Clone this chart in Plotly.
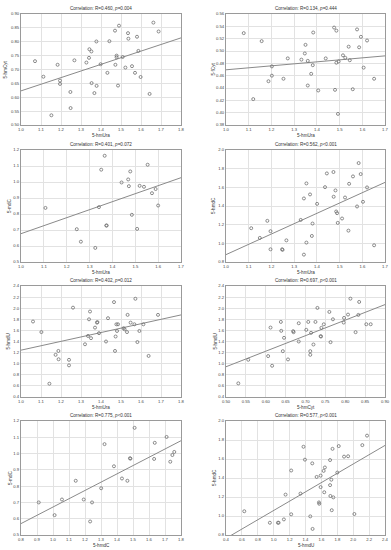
import plotly.graph_objects as go

# ---------------- data ----------------
# Panel 1: 5-hmUra vs 5-hmCyt
p1_x = [1.07, 1.112, 1.152, 1.183, 1.195, 1.195, 1.247, 1.248, 1.267, 1.327, 1.34, 1.342, 1.352,
        1.353, 1.367, 1.377, 1.378, 1.398, 1.432, 1.442, 1.47, 1.472, 1.478, 1.478, 1.485, 1.49,
        1.508, 1.522, 1.535, 1.537, 1.555, 1.57, 1.58, 1.587, 1.598, 1.643, 1.662, 1.688]
p1_y = [0.730, 0.674, 0.535, 0.717, 0.660, 0.648, 0.619, 0.561, 0.733, 0.725, 0.742, 0.773, 0.765,
        0.651, 0.615, 0.801, 0.641, 0.719, 0.688, 0.802, 0.840, 0.717, 0.750, 0.744, 0.642, 0.858,
        0.745, 0.707, 0.831, 0.811, 0.712, 0.688, 0.818, 0.767, 0.673, 0.612, 0.869, 0.837]
fit1_x = [1.0, 1.8]
fit1_y = [0.623, 0.814]

# Panel 2: 5-hmUra vs 5-fCyt
p2_x = [1.078, 1.12, 1.157, 1.187, 1.202, 1.202, 1.253, 1.272, 1.332, 1.347, 1.35, 1.36, 1.36,
        1.375, 1.382, 1.384, 1.406, 1.439, 1.476, 1.48, 1.486, 1.486, 1.493, 1.496, 1.515, 1.525,
        1.54, 1.545, 1.558, 1.577, 1.586, 1.594, 1.606, 1.621, 1.652]
p2_y = [0.529, 0.422, 0.516, 0.451, 0.460, 0.475, 0.455, 0.488, 0.486, 0.496, 0.510, 0.484, 0.444,
        0.463, 0.477, 0.530, 0.436, 0.488, 0.538, 0.437, 0.533, 0.481, 0.398, 0.483, 0.493, 0.489,
        0.507, 0.485, 0.438, 0.535, 0.506, 0.523, 0.473, 0.517, 0.455]
fit2_x = [1.0, 1.7]
fit2_y = [0.4695, 0.4921]

# Panel 3: 5-hmUra vs 5-mdC
p3_x = [1.107, 1.244, 1.262, 1.325, 1.341, 1.351, 1.366, 1.373, 1.375, 1.44, 1.469, 1.472, 1.478,
        1.485, 1.508, 1.519, 1.538, 1.554, 1.573, 1.589, 1.6]
p3_y = [0.838, 0.705, 0.627, 0.588, 0.843, 1.077, 1.164, 0.728, 0.728, 0.997, 1.016, 0.974, 1.066,
        0.795, 0.707, 0.976, 0.970, 1.108, 0.930, 0.956, 0.853]
fit3_x = [1.0, 1.7]
fit3_y = [0.677, 1.027]

# Panel 4: 5-hmUra vs 5-hmdC
p4_x = [1.111, 1.149, 1.182, 1.196, 1.196, 1.247, 1.249, 1.266, 1.329, 1.343, 1.343, 1.354, 1.354,
        1.37, 1.378, 1.381, 1.401, 1.436, 1.444, 1.473, 1.474, 1.482, 1.485, 1.489, 1.492, 1.511,
        1.524, 1.539, 1.542, 1.559, 1.577, 1.584, 1.593, 1.603, 1.621, 1.652]
p4_y = [1.162, 1.058, 1.241, 1.130, 0.936, 0.936, 0.930, 1.032, 1.251, 1.481, 0.879, 1.642, 1.008,
        1.524, 1.079, 1.212, 1.423, 1.602, 1.749, 1.764, 1.499, 1.567, 1.341, 1.323, 1.219, 1.266,
        1.491, 1.136, 1.638, 1.717, 1.395, 1.860, 1.742, 1.445, 1.599, 0.979]
fit4_x = [1.0, 1.7]
fit4_y = [0.879, 1.653]

# Panel 5: 5-hmUra vs 5-hmdU
p5_x = [1.06, 1.102, 1.142, 1.173, 1.187, 1.188, 1.24, 1.24, 1.26, 1.32, 1.335, 1.34, 1.345, 1.35,
        1.37, 1.38, 1.382, 1.39, 1.425, 1.435, 1.465, 1.47, 1.473, 1.477, 1.485, 1.48, 1.513, 1.518,
        1.53, 1.533, 1.548, 1.567, 1.572, 1.582, 1.592, 1.612, 1.638, 1.685]
p5_y = [1.76, 1.57, 0.64, 1.16, 1.23, 1.08, 1.07, 0.97, 2.01, 1.35, 1.50, 1.80, 1.94, 1.46,
        1.65, 1.74, 1.75, 1.55, 1.40, 1.82, 2.11, 1.23, 1.49, 1.71, 1.71, 1.59, 1.64, 1.62,
        1.57, 1.88, 1.74, 1.71, 2.17, 1.39, 1.59, 1.71, 1.14, 1.88]
fit5_x = [1.0, 1.8]
fit5_y = [1.244, 1.879]

# Panel 6: 5-hmCyt vs 5-hmdU
p6_x = [0.531, 0.556, 0.606, 0.612, 0.616, 0.638, 0.639, 0.643, 0.646, 0.656, 0.669, 0.670, 0.683,
        0.683, 0.702, 0.707, 0.712, 0.712, 0.714, 0.720, 0.725, 0.730, 0.738, 0.739, 0.740, 0.746,
        0.760, 0.763, 0.769, 0.796, 0.797, 0.807, 0.813, 0.826, 0.833, 0.835, 0.853, 0.864]
p6_y = [0.646, 1.071, 1.137, 1.651, 0.963, 1.753, 1.592, 1.226, 1.466, 1.077, 1.586, 1.568, 1.729,
        1.400, 1.610, 1.753, 1.226, 1.160, 1.556, 1.346, 1.753, 2.005, 1.496, 1.490, 1.646, 1.710,
        1.933, 1.388, 1.800, 1.741, 1.825, 1.885, 2.172, 1.568, 1.879, 2.113, 1.711, 1.711]
fit6_x = [0.50, 0.90]
fit6_y = [0.945, 2.065]

# Panel 7: 5-hmdC vs 5-mdC
p7_x = [0.911, 1.01, 1.056, 1.142, 1.192, 1.244, 1.232, 1.301, 1.322, 1.381, 1.431, 1.465, 1.481,
        1.484, 1.51, 1.636, 1.632, 1.71, 1.733, 1.746, 1.758]
p7_y = [0.700, 0.622, 0.718, 0.833, 0.718, 0.700, 0.583, 0.787, 1.058, 0.922, 0.847, 0.833, 0.971,
        0.969, 1.158, 1.066, 0.967, 1.102, 0.950, 0.991, 1.010]
fit7_x = [0.8, 1.8]
fit7_y = [0.570, 1.079]

# Panel 8: 5-hmdU vs 5-hmdC
p8_x = [0.63, 0.952, 1.053, 1.062, 1.128, 1.149, 1.22, 1.22, 1.337, 1.375, 1.393, 1.46, 1.485,
        1.489, 1.54, 1.569, 1.573, 1.59, 1.59, 1.628, 1.644, 1.636, 1.709, 1.709, 1.713, 1.725,
        1.73, 1.75, 1.74, 1.80, 1.818, 1.885, 1.936, 2.015, 2.115, 2.174]
p8_y = [1.050, 0.929, 0.929, 0.929, 0.964, 1.225, 1.479, 1.018, 1.236, 1.729, 1.593, 0.996, 1.554,
        0.864, 1.411, 1.143, 1.129, 1.425, 1.304, 1.475, 1.511, 1.250, 1.589, 1.325, 1.211, 1.382,
        1.061, 1.196, 1.707, 1.457, 1.736, 1.625, 1.629, 1.021, 1.746, 1.846]
fit8_x = [0.4, 2.4]
fit8_y = [0.765, 1.743]

titles = [
    "Correlation: R=0.460, <i>p</i>=0.004",
    "Correlation: R=0.134, <i>p</i>=0.444",
    "Correlation: R=0.401, <i>p</i>=0.072",
    "Correlation: R=0.562, <i>p</i>&lt;0.001",
    "Correlation: R=0.402, <i>p</i>=0.012",
    "Correlation: R=0.697, <i>p</i>&lt;0.001",
    "Correlation: R=0.775, <i>p</i>&lt;0.001",
    "Correlation: R=0.577, <i>p</i>&lt;0.001",
]
x_titles = ["5-hmUra", "5-hmUra", "5-hmUra", "5-hmUra", "5-hmUra", "5-hmCyt", "5-hmdC", "5-hmdU"]
y_titles = ["5-hmCyt", "5-fCyt", "5-mdC", "5-hmdC", "5-hmdU", "5-hmdU", "5-mdC", "5-hmdC"]

x_ranges = [[1.0, 1.8], [1.0, 1.7], [1.0, 1.7], [1.0, 1.7], [1.0, 1.8], [0.50, 0.90], [0.8, 1.8], [0.4, 2.4]]
x_dticks = [0.1, 0.1, 0.1, 0.1, 0.1, 0.05, 0.1, 0.2]
x_formats = [".1f", ".1f", ".1f", ".1f", ".1f", ".2f", ".1f", ".1f"]
y_ranges = [[0.50, 0.90], [0.38, 0.56], [0.5, 1.2], [0.8, 2.0], [0.4, 2.4], [0.4, 2.4], [0.5, 1.2], [0.8, 2.0]]
y_dticks = [0.05, 0.02, 0.1, 0.2, 0.2, 0.2, 0.1, 0.2]
y_formats = [".2f", ".2f", ".1f", ".1f", ".1f", ".1f", ".1f", ".1f"]

xs = [p1_x, p2_x, p3_x, p4_x, p5_x, p6_x, p7_x, p8_x]
ys = [p1_y, p2_y, p3_y, p4_y, p5_y, p6_y, p7_y, p8_y]
fxs = [fit1_x, fit2_x, fit3_x, fit4_x, fit5_x, fit6_x, fit7_x, fit8_x]
fys = [fit1_y, fit2_y, fit3_y, fit4_y, fit5_y, fit6_y, fit7_y, fit8_y]


def tick_list(rng, step):
    n = int(round((rng[1] - rng[0]) / step))
    return [round(rng[0] + k * step, 6) for k in range(n + 1)]


# ---------------- layout geometry (pixels) ----------------
W, H = 391, 550
col_px = [(21, 181), (226, 385)]
row_px = [(14, 125), (150, 262), (286, 397), (421, 535)]
ytitle_px = [5, 213, 10, 214, 8, 215, 10, 214]

fig = go.Figure()
FONT = "Liberation Sans, Arial, sans-serif"
layout = dict(
    width=W, height=H, margin=dict(l=0, r=0, t=0, b=0),
    paper_bgcolor="white", plot_bgcolor="white", showlegend=False,
    font=dict(family=FONT, size=4.5, color="#333"),
)
annotations = []

for i in range(8):
    r, c = divmod(i, 2)
    n = i + 1
    xa = "x" if n == 1 else f"x{n}"
    ya = "y" if n == 1 else f"y{n}"
    x0, x1 = col_px[c]
    yt, yb = row_px[r]
    xdom = [x0 / W, x1 / W]
    ydom = [1 - yb / H, 1 - yt / H]

    fig.add_trace(go.Scatter(
        x=fxs[i], y=fys[i], mode="lines", xaxis=xa, yaxis=ya,
        line=dict(color="#8a8a8a", width=1), hoverinfo="skip"))
    fig.add_trace(go.Scatter(
        x=xs[i], y=ys[i], mode="markers", xaxis=xa, yaxis=ya,
        marker=dict(symbol="circle-open", size=3.0, color="#707070",
                    line=dict(width=0.8, color="#707070"))))

    common = dict(showgrid=True, gridcolor="#e2e2e2", gridwidth=0.6, zeroline=False,
                  showline=True, linecolor="#9a9a9a", linewidth=1, mirror=True, ticks="",
                  ticklabeloverflow="allow", tickmode="array",
                  tickfont=dict(family=FONT, size=4.2, color="#444"), automargin=False)
    xt = tick_list(x_ranges[i], x_dticks[i])
    yv = tick_list(y_ranges[i], y_dticks[i])
    layout["xaxis" if n == 1 else f"xaxis{n}"] = dict(
        domain=xdom, anchor=ya, range=x_ranges[i], tickvals=xt,
        ticktext=[format(v, x_formats[i]) for v in xt], **common)
    layout["yaxis" if n == 1 else f"yaxis{n}"] = dict(
        domain=ydom, anchor=xa, range=y_ranges[i], tickvals=yv,
        ticktext=[format(v, y_formats[i]) for v in yv], **common)

    xc = (xdom[0] + xdom[1]) / 2
    annotations.append(dict(text=titles[i], xref="paper", yref="paper", x=xc, y=ydom[1],
                            yshift=6, showarrow=False, yanchor="middle", xanchor="center",
                            font=dict(family=FONT, size=4.6, color="#333")))
    annotations.append(dict(text=x_titles[i], xref="paper", yref="paper", x=xc, y=ydom[0],
                            yshift=-10, showarrow=False, yanchor="middle", xanchor="center",
                            font=dict(family=FONT, size=4.6, color="#333")))
    annotations.append(dict(text=y_titles[i], xref="paper", yref="paper", x=ytitle_px[i] / W,
                            y=(ydom[0] + ydom[1]) / 2, textangle=-90, showarrow=False,
                            xanchor="center", yanchor="middle",
                            font=dict(family=FONT, size=4.6, color="#333")))

layout["annotations"] = annotations
fig.update_layout(**layout)
fig.write_html("out.html",
               config={"displayModeBar": False},
               post_script="document.body.style.margin='0';document.body.style.padding='0';"
                           "document.body.style.overflow='hidden';")
